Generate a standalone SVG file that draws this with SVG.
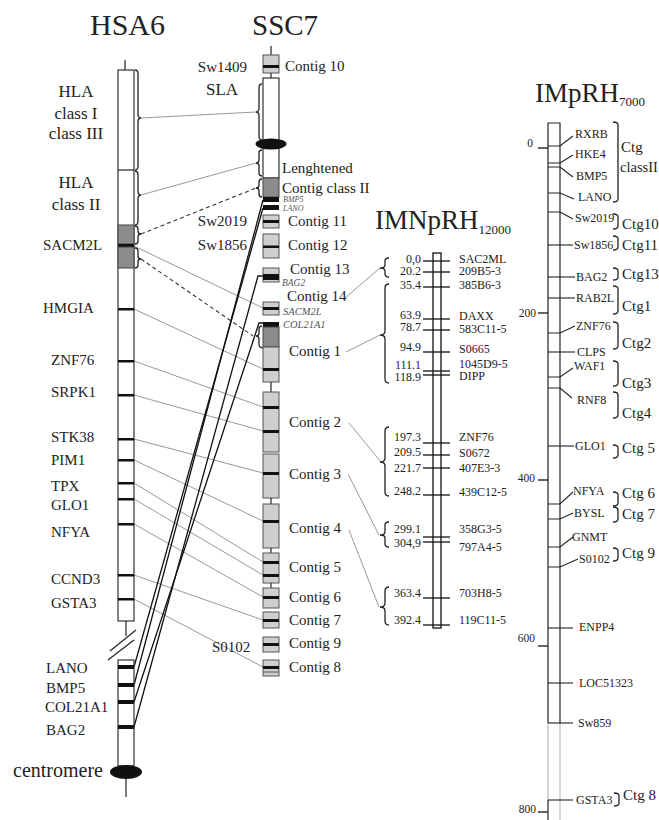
<svg xmlns="http://www.w3.org/2000/svg" width="659" height="820" viewBox="0 0 659 820">
<style>
text{font-family:"Liberation Serif","Times New Roman",serif;fill:#222}
.ti{font-size:30px}
.lg{font-size:17px}
.g{font-size:15px}
.it{font-size:10px;font-style:italic;fill:#555}
.sm{font-size:12px}
.sc{font-size:11.5px}
.ctg{font-size:15px}
.ch{fill:#fff;stroke:#333;stroke-width:1.2}
.cg{fill:#cfcfcf;stroke:#555;stroke-width:1}
.dg{fill:#8c8c8c;stroke:#444;stroke-width:1}
.bd{fill:#111}
.ln{stroke:#222;stroke-width:1.2;fill:none}
.br{stroke:#222;stroke-width:1.3;fill:none}
.gc{stroke:#999;stroke-width:1;fill:none}
.dc{stroke:#333;stroke-width:1.1;fill:none;stroke-dasharray:4 3}
.bc{stroke:#111;stroke-width:1.3;fill:none}
.tk{stroke:#111;stroke-width:1.3;fill:none}
</style>

<!-- Titles -->
<text class="ti" x="90" y="35">HSA6</text>
<text class="ti" x="252" y="35" style="font-size:29px">SSC7</text>
<text x="375" y="229" style="font-size:27px">IMNpRH<tspan style="font-size:13px" dy="5">12000</tspan></text>
<text x="535" y="102" style="font-size:27px">IMpRH<tspan style="font-size:13px" dy="4">7000</tspan></text>

<!-- Connectors -->
<g id="connectors">
  <line class="gc" x1="141" y1="118" x2="256" y2="112"/>
  <line class="gc" x1="141" y1="195" x2="256" y2="163"/>
  <line class="dc" x1="141" y1="234" x2="256" y2="188"/>
  <line class="gc" x1="134" y1="246" x2="263" y2="308"/>
  <line class="dc" x1="141" y1="259" x2="253" y2="336"/>
  <line class="gc" x1="134" y1="309" x2="263" y2="369"/>
  <line class="gc" x1="134" y1="361" x2="263" y2="407"/>
  <line class="gc" x1="134" y1="395" x2="263" y2="431"/>
  <line class="gc" x1="134" y1="439" x2="263" y2="473"/>
  <line class="gc" x1="134" y1="460" x2="263" y2="521"/>
  <line class="gc" x1="134" y1="483" x2="263" y2="562"/>
  <line class="gc" x1="134" y1="499" x2="263" y2="575"/>
  <line class="gc" x1="134" y1="524" x2="263" y2="597"/>
  <line class="gc" x1="134" y1="575" x2="263" y2="620"/>
  <line class="gc" x1="134" y1="599" x2="263" y2="667"/>
  <!-- black connectors -->
  <line class="bc" x1="134" y1="667" x2="263" y2="208"/>
  <line class="bc" x1="134" y1="685" x2="263" y2="200"/>
  <polyline class="bc" points="134,702 259,323 263,323"/>
  <polyline class="bc" points="134,727 258,276 263,276"/>
  <!-- SSC7 to IMNpRH -->
  <line class="gc" x1="345" y1="298" x2="380" y2="268"/>
  <line class="gc" x1="346" y1="352" x2="380" y2="335"/>
  <line class="gc" x1="349" y1="423" x2="381" y2="462"/>
  <line class="gc" x1="348" y1="474" x2="379" y2="535"/>
  <line class="gc" x1="349" y1="530" x2="379" y2="607"/>
</g>

<!-- HSA6 -->
<g id="HSA6">
  <line class="ln" x1="125" y1="60" x2="125" y2="70"/>
  <rect class="ch" x="118" y="70" width="16" height="551"/>
  <line class="ln" x1="118" y1="170" x2="134" y2="170"/>
  <rect class="dg" x="118" y="225" width="16" height="19"/>
  <rect class="bd" x="118" y="244" width="16" height="3"/>
  <rect class="dg" x="118" y="247" width="16" height="21"/>
  <rect class="bd" x="118" y="308" width="16" height="2.5"/>
  <rect class="bd" x="118" y="360" width="16" height="2.5"/>
  <rect class="bd" x="118" y="394" width="16" height="2.5"/>
  <rect class="bd" x="118" y="438" width="16" height="2.5"/>
  <rect class="bd" x="118" y="459" width="16" height="2.5"/>
  <rect class="bd" x="118" y="482" width="16" height="2.5"/>
  <rect class="bd" x="118" y="498" width="16" height="2.5"/>
  <rect class="bd" x="118" y="523" width="16" height="2.5"/>
  <rect class="bd" x="118" y="574" width="16" height="2.5"/>
  <rect class="bd" x="118" y="598" width="16" height="2.5"/>
  <line class="ln" x1="126" y1="621" x2="126" y2="636"/>
  <line class="ln" x1="110" y1="651" x2="136" y2="630"/>
  <line class="ln" x1="108" y1="660" x2="134" y2="640"/>
  <rect class="ch" x="118" y="660" width="16" height="106"/>
  <rect class="bd" x="118" y="665" width="16" height="4"/>
  <rect class="bd" x="118" y="683" width="16" height="4"/>
  <rect class="bd" x="118" y="700" width="16" height="4"/>
  <rect class="bd" x="118" y="725" width="16" height="4"/>
  <line class="ln" x1="126" y1="776" x2="126" y2="797"/>
  <ellipse cx="126" cy="772" rx="16" ry="7" fill="#111"/>
  <path class="br" d="M135,70 Q138,70 138,74 V114 Q138,118 141,118 Q138,118 138,122 V166 Q138,170 135,170"/>
  <path class="br" d="M135,171 Q138,171 138,175 V191 Q138,195 141,195 Q138,195 138,199 V221 Q138,225 135,225"/>
  <path class="br" d="M135,226 Q138,226 138,229 V231 Q138,234 141,234 Q138,234 138,237 V241 Q138,244 135,244"/>
  <path class="br" d="M135,248 Q138,248 138,251 V256 Q138,259 141,259 Q138,259 138,262 V265 Q138,268 135,268"/>
  <text class="lg" x="76" y="97" text-anchor="middle">HLA</text>
  <text class="lg" x="76" y="119" text-anchor="middle">class I</text>
  <text class="lg" x="76" y="139" text-anchor="middle">class III</text>
  <text class="lg" x="76" y="188" text-anchor="middle">HLA</text>
  <text class="lg" x="76" y="210" text-anchor="middle">class II</text>
  <text class="g" x="43" y="250">SACM2L</text>
  <text class="g" x="43" y="313">HMGIA</text>
  <text class="g" x="51" y="365">ZNF76</text>
  <text class="g" x="51" y="397">SRPK1</text>
  <text class="g" x="51" y="442">STK38</text>
  <text class="g" x="51" y="465">PIM1</text>
  <text class="g" x="51" y="491">TPX</text>
  <text class="g" x="51" y="510">GLO1</text>
  <text class="g" x="51" y="537">NFYA</text>
  <text class="g" x="51" y="584">CCND3</text>
  <text class="g" x="51" y="608">GSTA3</text>
  <text class="g" x="46" y="673">LANO</text>
  <text class="g" x="46" y="693">BMP5</text>
  <text class="g" x="45" y="712">COL21A1</text>
  <text class="g" x="46" y="735">BAG2</text>
  <text x="13" y="777" style="font-size:20px">centromere</text>
</g>

<!-- SSC7 -->
<g id="SSC7">
  <line class="ln" x1="271" y1="46" x2="271" y2="55"/>
  <line class="ln" x1="271" y1="73" x2="271" y2="78"/>
  <rect class="ch" x="263" y="78" width="16" height="66"/>
  <rect class="ch" x="263" y="144" width="16" height="34"/>
  <rect class="dg" x="263" y="178" width="16" height="19"/>
  <rect class="bd" x="263" y="197" width="16" height="5"/>
  <rect class="bd" x="263" y="205" width="16" height="5"/>
  <ellipse cx="271" cy="144" rx="15.5" ry="5.5" fill="#111"/>
  <path class="br" d="M262,84 Q259,84 259,88 V108 Q259,112 256,112 Q259,112 259,116 V136 Q259,140 262,140"/>
  <path class="br" d="M262,150 Q259,150 259,153 V160 Q259,163 256,163 Q259,163 259,166 V173 Q259,176 262,176"/>
  <path class="br" d="M262,179 Q259,179 259,182 V185 Q259,188 256,188 Q259,188 259,191 V194 Q259,197 262,197"/>
  <path class="br" d="M262,326 Q259,326 259,329 V333 Q259,336 256,336 Q259,336 259,339 V344 Q259,348 263,348"/>
  <text class="g" x="247" y="72" text-anchor="end">Sw1409</text>
  <text class="lg" x="222" y="95" text-anchor="middle">SLA</text>
  <text class="g" x="282" y="173">Lenghtened</text>
  <text class="g" x="282" y="193">Contig class II</text>
  <text class="it" x="283" y="202" style="font-size:8px">BMP5</text>
  <text class="it" x="283" y="211" style="font-size:8px">LANO</text>
  <text class="g" x="247" y="226" text-anchor="end">Sw2019</text>
  <text class="g" x="247" y="250" text-anchor="end">Sw1856</text>
  <text class="g" x="212" y="652">S0102</text>
</g>
<g id="contig10"><rect class="cg" x="263" y="55" width="16" height="18"/><rect class="bd" x="263" y="65" width="16" height="3"/><text class="g" x="285" y="71">Contig 10</text></g>
<g id="contig11"><rect class="cg" x="263" y="215" width="16" height="13"/><rect class="bd" x="263" y="220" width="16" height="3"/><text class="g" x="288" y="226">Contig 11</text></g>
<g id="contig12"><rect class="cg" x="263" y="234" width="16" height="24"/><rect class="bd" x="263" y="245.5" width="16" height="2.5"/><text class="g" x="288" y="250">Contig 12</text></g>
<g id="contig13"><rect class="cg" x="263" y="268" width="16" height="14"/><rect class="bd" x="263" y="274" width="16" height="6"/><text class="g" x="290" y="274">Contig 13</text><text class="it" x="282" y="286" style="font-size:9.5px">BAG2</text></g>
<g id="contig14"><rect class="cg" x="263" y="302" width="16" height="13"/><rect class="bd" x="263" y="307" width="16" height="3"/><text class="g" x="287" y="301">Contig 14</text><text class="it" x="283" y="315" style="font-size:10.5px">SACM2L</text></g>
<g id="contig1"><rect class="bd" x="263" y="322" width="16" height="5"/><rect class="dg" x="263" y="327" width="16" height="20"/><rect class="cg" x="263" y="347" width="16" height="35"/><rect class="bd" x="263" y="368" width="16" height="3"/><text class="it" x="283" y="328" style="font-size:10.5px">COL21A1</text><text class="g" x="289" y="356">Contig 1</text></g>
<line class="ln" x1="271" y1="382" x2="271" y2="392"/>
<g id="contig2"><rect class="cg" x="263" y="392" width="16" height="60"/><rect class="bd" x="263" y="406" width="16" height="3"/><rect class="bd" x="263" y="430" width="16" height="3"/><text class="g" x="289" y="427">Contig 2</text></g>
<g id="contig3"><rect class="cg" x="263" y="454" width="16" height="44"/><rect class="bd" x="263" y="472" width="16" height="3"/><text class="g" x="289" y="479">Contig 3</text></g>
<line class="ln" x1="271" y1="498" x2="271" y2="504"/>
<g id="contig4"><rect class="cg" x="263" y="504" width="16" height="44"/><rect class="bd" x="263" y="520" width="16" height="3"/><text class="g" x="289" y="533">Contig 4</text></g>
<line class="ln" x1="271" y1="548" x2="271" y2="553"/>
<g id="contig5"><rect class="cg" x="263" y="553" width="16" height="30"/><rect class="bd" x="263" y="561" width="16" height="3"/><rect class="bd" x="263" y="574" width="16" height="3"/><text class="g" x="289" y="572">Contig 5</text></g>
<line class="ln" x1="271" y1="583" x2="271" y2="588"/>
<g id="contig6"><rect class="cg" x="263" y="588" width="16" height="20"/><rect class="bd" x="263" y="596" width="16" height="3"/><text class="g" x="289" y="602">Contig 6</text></g>
<g id="contig7"><rect class="cg" x="263" y="612" width="16" height="16"/><rect class="bd" x="263" y="619" width="16" height="3"/><text class="g" x="289" y="625">Contig 7</text></g>
<g id="contig9"><rect class="cg" x="263" y="637" width="16" height="15"/><rect class="bd" x="263" y="643" width="16" height="3"/><text class="g" x="289" y="648">Contig 9</text></g>
<g id="contig8"><rect class="cg" x="263" y="660" width="16" height="16"/><rect class="bd" x="263" y="666" width="16" height="3"/><line x1="263" y1="672" x2="279" y2="672" stroke="#555" stroke-width="1"/><text class="g" x="289" y="672">Contig 8</text></g>

<!-- IMNpRH12000 -->
<g id="IMNpRH">
  <rect x="433" y="253" width="8" height="375" fill="#fff" stroke="#111" stroke-width="1.3"/>
  <g class="tk">
    <line x1="423" y1="261" x2="450" y2="261"/>
    <line x1="423" y1="272" x2="450" y2="272"/>
    <line x1="423" y1="287" x2="450" y2="287"/>
    <line x1="423" y1="319" x2="450" y2="319"/>
    <line x1="423" y1="330" x2="450" y2="330"/>
    <line x1="423" y1="352" x2="450" y2="352"/>
    <line x1="423" y1="371" x2="450" y2="371"/>
    <line x1="423" y1="375" x2="450" y2="375"/>
    <line x1="423" y1="443" x2="450" y2="443"/>
    <line x1="423" y1="455" x2="450" y2="455"/>
    <line x1="423" y1="468" x2="450" y2="468"/>
    <line x1="423" y1="495" x2="450" y2="495"/>
    <line x1="423" y1="537" x2="450" y2="537"/>
    <line x1="423" y1="542" x2="450" y2="542"/>
    <line x1="423" y1="598" x2="450" y2="598"/>
    <line x1="423" y1="625" x2="450" y2="625"/>
  </g>
  <path class="br" d="M389,258 Q385,258 385,261 V265 Q385,268 380,268 Q385,268 385,271 V274 Q385,277 389,277"/>
  <path class="br" d="M389,284 Q385,284 385,288 V331 Q385,335 380,335 Q385,335 385,339 V379 Q385,383 389,383"/>
  <path class="br" d="M389,427 Q385,427 385,431 V458 Q385,462 380,462 Q385,462 385,466 V492 Q385,496 389,496"/>
  <path class="br" d="M389,522 Q385,522 385,525 V532 Q385,535 380,535 Q385,535 385,538 V544 Q385,547 389,547"/>
  <path class="br" d="M389,587 Q385,587 385,591 V603 Q385,607 380,607 Q385,607 385,611 V621 Q385,625 389,625"/>
  <g class="sm" text-anchor="end">
    <text x="421" y="263">0,0</text>
    <text x="421" y="275">20.2</text>
    <text x="421" y="289">35.4</text>
    <text x="421" y="319">63.9</text>
    <text x="421" y="331">78.7</text>
    <text x="421" y="351">94.9</text>
    <text x="421" y="369">111.1</text>
    <text x="421" y="381">118.9</text>
    <text x="421" y="441">197.3</text>
    <text x="421" y="456">209.5</text>
    <text x="421" y="472">221.7</text>
    <text x="421" y="495">248.2</text>
    <text x="421" y="533">299.1</text>
    <text x="421" y="547">304,9</text>
    <text x="421" y="597">363.4</text>
    <text x="421" y="624">392.4</text>
  </g>
  <g class="sm">
    <text x="459" y="263">SAC2ML</text>
    <text x="459" y="275">209B5-3</text>
    <text x="459" y="289">385B6-3</text>
    <text x="459" y="320">DAXX</text>
    <text x="459" y="333">583C11-5</text>
    <text x="459" y="353">S0665</text>
    <text x="459" y="368">1045D9-5</text>
    <text x="459" y="380">DIPP</text>
    <text x="459" y="441">ZNF76</text>
    <text x="459" y="457">S0672</text>
    <text x="459" y="472">407E3-3</text>
    <text x="459" y="496">439C12-5</text>
    <text x="459" y="533">358G3-5</text>
    <text x="459" y="551">797A4-5</text>
    <text x="459" y="597">703H8-5</text>
    <text x="459" y="624">119C11-5</text>
  </g>
</g>

<!-- IMpRH7000 -->
<g id="IMpRH">
  <path class="ln" d="M548,723 V123 H560 V723"/>
  <path d="M548,723 V800 M560,723 V820" stroke="#bbb" stroke-width="1.2" fill="none"/>
  <line class="ln" x1="548" y1="800" x2="548" y2="820"/>
  <g class="tk">
    <line x1="538" y1="148" x2="548" y2="148"/>
    <line x1="538" y1="313" x2="548" y2="313"/>
    <line x1="538" y1="480" x2="548" y2="480"/>
    <line x1="538" y1="646" x2="548" y2="646"/>
    <line x1="538" y1="812" x2="548" y2="812"/>
  </g>
  <g class="sc" text-anchor="end">
    <text x="533" y="147">0</text>
    <text x="536" y="317">200</text>
    <text x="535" y="482">400</text>
    <text x="535" y="642">600</text>
    <text x="536" y="813">800</text>
  </g>
  <g class="ln" style="stroke-width:1.1">
    <path d="M548,146 H560 L573,136"/>
    <path d="M548,163 H560 L573,155"/>
    <path d="M548,167 H560 L573,177"/>
    <path d="M548,193 H560 L574,199"/>
    <path d="M548,212 H560 L573,219"/>
    <path d="M548,245 H573"/>
    <path d="M548,277 H575"/>
    <path d="M548,298 H575"/>
    <path d="M548,333 H560 L575,326"/>
    <path d="M548,352 H575"/>
    <path d="M548,377 H560 L573,368"/>
    <path d="M548,388 H560 L572,398"/>
    <path d="M548,446 H574"/>
    <path d="M548,504 H560 L573,492"/>
    <path d="M548,519 H560 L573,513"/>
    <path d="M548,547 H560 L573,537"/>
    <path d="M548,567 H560 L578,559"/>
    <path d="M548,628 H573"/>
    <path d="M548,683 H573"/>
    <path d="M548,723 H573"/>
    <path d="M548,800 H573"/>
  </g>
  <g class="sm">
    <text x="575" y="138">RXRB</text>
    <text x="575" y="158">HKE4</text>
    <text x="576" y="180">BMP5</text>
    <text x="578" y="201">LANO</text>
    <text x="575" y="222">Sw2019</text>
    <text x="574" y="249">Sw1856</text>
    <text x="576" y="281">BAG2</text>
    <text x="576" y="302">RAB2L</text>
    <text x="576" y="330">ZNF76</text>
    <text x="577" y="356">CLPS</text>
    <text x="574" y="370">WAF1</text>
    <text x="577" y="404">RNF8</text>
    <text x="575" y="450">GLO1</text>
    <text x="573" y="495">NFYA</text>
    <text x="574" y="517">BYSL</text>
    <text x="572" y="541">GNMT</text>
    <text x="579" y="563">S0102</text>
    <text x="579" y="631">ENPP4</text>
    <text x="579" y="687">LOC51323</text>
    <text x="578" y="727">Sw859</text>
    <text x="576" y="804">GSTA3</text>
  </g>
  <g class="br">
    <path d="M613,122 Q618,122 618,125 V199 Q618,202 613,202"/>
    <path d="M613,214 Q618,214 618,217 V226 Q618,229 613,229"/>
    <path d="M613,236 Q618,236 618,239 V247 Q618,250 613,250"/>
    <path d="M613,268 Q618,268 618,271 V277 Q618,280 613,280"/>
    <path d="M613,286 Q618,286 618,289 V311 Q618,314 613,314"/>
    <path d="M613,322 Q618,322 618,325 V346 Q618,349 613,349"/>
    <path d="M613,361 Q618,361 618,364 V383 Q618,386 613,386"/>
    <path d="M613,392 Q618,392 618,395 V415 Q618,418 613,418"/>
    <path d="M613,445 Q618,445 618,448 V455 Q618,458 613,458"/>
    <path d="M613,492 Q618,492 618,495 V503 Q618,506 613,506"/>
    <path d="M613,507 Q618,507 618,510 V519 Q618,522 613,522"/>
    <path d="M613,548 Q618,548 618,551 V558 Q618,561 613,561"/>
    <path d="M614,793 Q619,793 619,796 V803 Q619,806 614,806"/>
  </g>
  <g class="ctg">
    <text x="621" y="152">Ctg</text>
    <text x="620" y="172" style="font-size:14.5px">classII</text>
    <text x="622" y="229">Ctg10</text>
    <text x="622" y="250">Ctg11</text>
    <text x="622" y="279">Ctg13</text>
    <text x="622" y="311">Ctg1</text>
    <text x="622" y="348">Ctg2</text>
    <text x="622" y="388">Ctg3</text>
    <text x="622" y="418">Ctg4</text>
    <text x="622" y="453">Ctg 5</text>
    <text x="622" y="498">Ctg 6</text>
    <text x="622" y="519">Ctg 7</text>
    <text x="622" y="558">Ctg 9</text>
    <text x="623" y="800">Ctg 8</text>
  </g>
</g>
</svg>
